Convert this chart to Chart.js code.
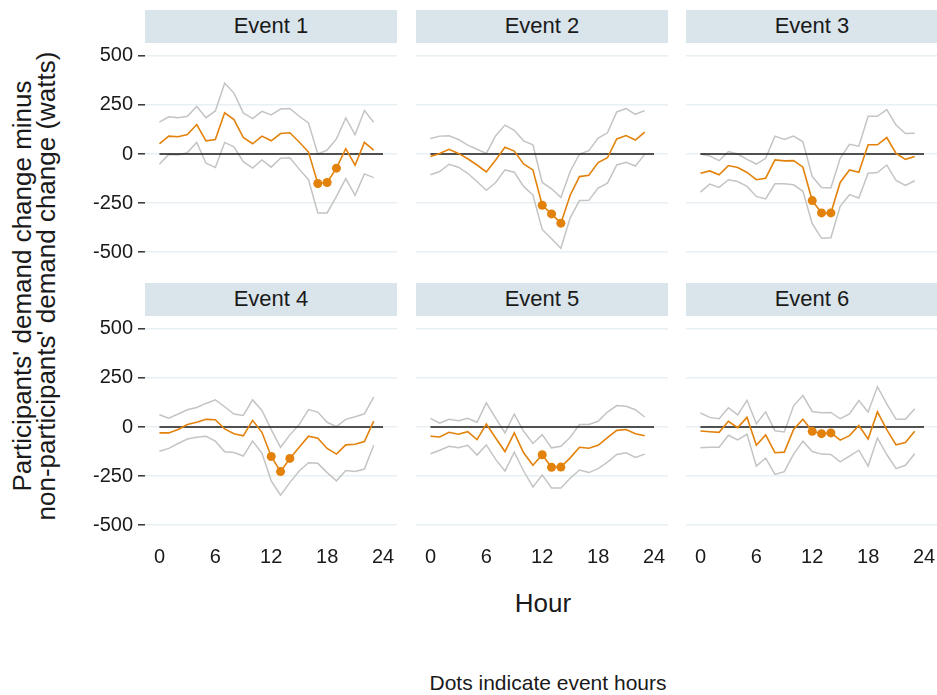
<!DOCTYPE html>
<html>
<head>
<meta charset="utf-8">
<script src="https://cdn.jsdelivr.net/npm/chart.js@4/dist/chart.umd.min.js"></script>
<style>
    body {
        margin: 0;
        width: 937px;
        height: 695px;
        overflow: hidden;
        position: relative;
        background: #ffffff;
        color: #1a1a1a;
        font-family: 'Liberation Sans', Arial, sans-serif;
    }
    canvas {
        position: absolute;
    }
    .strip {
        position: absolute;
        height: 33px;
        background: #d9e5eb;
        text-align: center;
        font-size: 22px;
        line-height: 31px;
    }
    .yTitle {
        position: absolute;
        left: -216px;
        top: 262px;
        width: 500px;
        height: 48px;
        font-size: 26px;
        line-height: 24px;
        text-align: center;
        white-space: nowrap;
        transform: rotate(-90deg);
    }
    .xTitle {
        position: absolute;
        left: 443px;
        top: 590px;
        width: 200px;
        font-size: 26px;
        line-height: 26px;
        text-align: center;
    }
    .caption {
        position: absolute;
        left: 348px;
        top: 672px;
        width: 400px;
        font-size: 21px;
        line-height: 21px;
        text-align: center;
    }
</style>
</head>
<body>

<div class="yTitle">Participants' demand change minus<br>non-participants' demand change (watts)</div>
<div class="xTitle">Hour</div>
<div class="caption">Dots indicate event hours</div>

<script>
// Hours of the day, shared by every event.
const hours = [0, 1, 2, 3, 4, 5, 6, 7, 8, 9, 10, 11, 12, 13, 14, 15, 16, 17, 18, 19, 20, 21, 22, 23];

const xTicks = [0, 6, 12, 18, 24];
const yTicks = [-500, -250, 0, 250, 500];

const eventNames = ['Event 1', 'Event 2', 'Event 3', 'Event 4', 'Event 5', 'Event 6'];

// Hours during which each event was running (drawn as dots).
const event1Hours = [17, 18, 19];
const event2Hours = [12, 13, 14];
const event3Hours = [12, 13, 14];
const event4Hours = [12, 13, 14];
const event5Hours = [12, 13, 14];
const event6Hours = [12, 13, 14];

// Estimate, upper and lower bound per hour (watts).
const event1Est = [52, 91, 88, 99, 150, 67, 74, 210, 175, 84, 52, 91, 67, 104, 108, 61, 10, -150, -145, -72, 27, -57, 59, 20];
const event1Hi = [162, 189, 185, 192, 242, 185, 219, 360, 310, 209, 180, 217, 199, 229, 232, 192, 158, 0, 20, 77, 184, 98, 221, 162];
const event1Lo = [-52, -2, -5, 7, 59, -47, -69, 59, 37, -39, -72, -30, -67, -22, -19, -77, -131, -300, -300, -216, -125, -210, -101, -120];

const event2Est = [-13, 3, 24, 3, -24, -56, -91, -30, 34, 15, -51, -81, -261, -305, -352, -210, -115, -108, -44, -19, 77, 94, 71, 111];
const event2Hi = [79, 91, 93, 74, 45, 24, 3, 93, 147, 121, 67, 47, -145, -177, -221, -89, 0, 17, 81, 108, 214, 231, 202, 221];
const event2Lo = [-106, -89, -52, -67, -98, -140, -185, -145, -81, -93, -165, -209, -384, -431, -480, -325, -237, -236, -173, -148, -56, -42, -61, -2];

const event3Est = [-98, -86, -106, -59, -69, -94, -131, -123, -30, -35, -34, -67, -237, -300, -300, -145, -81, -93, 47, 47, 84, 3, -27, -13];
const event3Hi = [0, -10, -34, 12, 0, -27, -51, -22, 91, 74, 91, 62, -115, -170, -173, -22, 49, 40, 192, 192, 226, 147, 104, 106];
const event3Lo = [-194, -153, -170, -131, -140, -165, -216, -229, -152, -152, -157, -190, -355, -429, -426, -266, -207, -224, -98, -94, -56, -135, -160, -136];

const event4Est = [-30, -30, -13, 13, 24, 39, 37, -10, -34, -45, 34, -27, -150, -227, -160, -103, -47, -57, -109, -138, -91, -88, -74, 30];
const event4Hi = [62, 45, 66, 88, 99, 120, 138, 103, 66, 59, 138, 84, -13, -103, -40, 12, 89, 76, 24, 2, 39, 52, 67, 152];
const event4Lo = [-123, -109, -84, -61, -52, -47, -72, -126, -130, -148, -72, -133, -274, -347, -283, -224, -182, -185, -232, -274, -222, -226, -214, -93];

const event5Est = [-47, -51, -27, -37, -24, -64, 15, -56, -125, -30, -131, -195, -141, -205, -204, -157, -103, -108, -93, -54, -17, -13, -34, -45];
const event5Hi = [44, 20, 39, 32, 44, 24, 123, 45, -30, 66, -22, -84, -39, -106, -98, -52, 13, 13, 29, 76, 109, 106, 88, 51];
const event5Lo = [-136, -118, -98, -106, -93, -143, -91, -165, -224, -128, -224, -305, -244, -310, -310, -261, -219, -232, -212, -179, -140, -131, -155, -138];

const event6Est = [-20, -24, -27, 29, -3, 49, -93, -40, -131, -128, -13, 40, -22, -34, -30, -67, -44, 8, -61, 77, -13, -91, -79, -22];
const event6Hi = [71, 49, 42, 98, 62, 136, 17, 77, -19, -25, 108, 160, 79, 72, 74, 42, 66, 135, 76, 205, 118, 39, 39, 93];
const event6Lo = [-106, -103, -103, -42, -66, -37, -199, -158, -241, -227, -138, -72, -125, -138, -140, -177, -148, -118, -199, -56, -140, -212, -195, -136];


const panels = [
    { est: event1Est, hi: event1Hi, lo: event1Lo, dots: event1Hours },
    { est: event2Est, hi: event2Hi, lo: event2Lo, dots: event2Hours },
    { est: event3Est, hi: event3Hi, lo: event3Lo, dots: event3Hours },
    { est: event4Est, hi: event4Hi, lo: event4Lo, dots: event4Hours },
    { est: event5Est, hi: event5Hi, lo: event5Lo, dots: event5Hours },
    { est: event6Est, hi: event6Hi, lo: event6Lo, dots: event6Hours }
];

// Facet geometry (page pixels).
const colLefts = [145, 416, 686];
const rowTops = [43, 316];
const panelWidth = 252;
const panelHeight = 222;
const yAxisWidth = 70;
const xAxisHeight = 40;

const orange = '#e3820b';
const grey = '#c4c4c4';

Chart.defaults.font.family = "'Liberation Sans', Arial, sans-serif";
Chart.defaults.color = '#1a1a1a';


function toPoints(values) {
    return hours.map((h, i) => ({ x: h, y: values[i] }));
}

function buildPanel(index) {
    const panel = panels[index];
    const col = index % 3;
    const row = Math.floor(index / 3);
    const left = colLefts[col];
    const top = rowTops[row];

    const strip = document.createElement('div');
    strip.className = 'strip';
    strip.style.left = left + 'px';
    strip.style.top = (top - 33) + 'px';
    strip.style.width = panelWidth + 'px';
    strip.textContent = eventNames[index];
    document.body.appendChild(strip);

    const canvas = document.createElement('canvas');
    canvas.width = panelWidth + yAxisWidth;
    canvas.height = panelHeight + xAxisHeight;
    canvas.style.left = (left - yAxisWidth) + 'px';
    canvas.style.top = top + 'px';
    document.body.appendChild(canvas);

    const showY = col === 0;
    const showX = row === 1;

    const config = {
        type: 'line',
        data: {
            datasets: [
                {
                    data: toPoints(panel.est),
                    borderColor: orange,
                    borderWidth: 1.6,
                    pointRadius: hours.map(h => panel.dots.includes(h) ? 4.5 : 0),
                    pointBackgroundColor: orange,
                    pointBorderWidth: 0
                },
                {
                    data: [{ x: xTicks[0], y: 0 }, { x: xTicks[xTicks.length - 1], y: 0 }],
                    borderColor: '#1a1a1a',
                    borderWidth: 1.5,
                    pointRadius: 0
                },
                {
                    data: toPoints(panel.hi),
                    borderColor: grey,
                    borderWidth: 1.5,
                    pointRadius: 0
                },
                {
                    data: toPoints(panel.lo),
                    borderColor: grey,
                    borderWidth: 1.5,
                    pointRadius: 0
                }
            ]
        },
        options: {
            responsive: false,
            animation: false,
            devicePixelRatio: 1,
            events: [],
            layout: { padding: 0 },
            plugins: {
                legend: { display: false },
                tooltip: { enabled: false }
            },
            scales: {
                x: {
                    type: 'linear',
                    min: -1.55,
                    max: 25.5,
                    afterBuildTicks: (scale) => {
                        scale.ticks = xTicks.map(v => ({ value: v }));
                    },
                    afterFit: (scale) => {
                        scale.height = xAxisHeight;
                        scale.paddingLeft = 0;
                        scale.paddingRight = 0;
                    },
                    border: { display: false },
                    grid: { display: false, drawTicks: false },
                    ticks: {
                        display: showX,
                        padding: 7,
                        maxRotation: 0,
                        font: { size: 20 },
                        callback: (value) => String(value)
                    }
                },
                y: {
                    type: 'linear',
                    min: -565,
                    max: 565,
                    afterBuildTicks: (scale) => {
                        scale.ticks = yTicks.map(v => ({ value: v }));
                    },
                    afterFit: (scale) => {
                        scale.width = yAxisWidth;
                        scale.paddingTop = 0;
                        scale.paddingBottom = 0;
                    },
                    border: { display: false },
                    grid: {
                        color: '#e8f0f3',
                        lineWidth: 1.6,
                        drawTicks: showY,
                        tickLength: 7,
                        tickColor: '#333333',
                        tickWidth: 1.5
                    },
                    ticks: {
                        display: showY,
                        padding: 5,
                        font: { size: 20 },
                        callback: (value) => String(value)
                    }
                }
            }
        }
    };

    return new Chart(canvas, config);
}

for (let i = 0; i < panels.length; ++i) {
    buildPanel(i);
}
</script>
</body>
</html>
